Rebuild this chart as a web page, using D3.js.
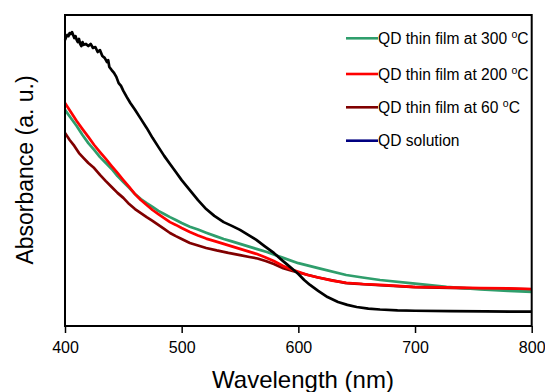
<!DOCTYPE html>
<html><head><meta charset="utf-8">
<script src="https://cdn.jsdelivr.net/npm/d3@7"></script>
<style>body{margin:0;background:#fff}svg{display:block;font-family:"Liberation Sans",Arial,sans-serif}</style>
</head><body>
<svg id="c" width="545" height="392"></svg>
<script>
// ---- data ----
const xTicks = [400, 500, 600, 700, 800];
const seriesNames = ["QD thin film at 300", "QD thin film at 200", "QD thin film at 60", "QD solution"];
const seriesColors = ["#2f9e6c", "#ff0000", "#800000", "#000000"];
const legendColors = ["#2f9e6c", "#ff0000", "#800000", "#000080"];

const wlSolution = [400,401,402,403,404,405,406,407,408,409,410,411,412,413,414,415,416,418,420,422,424,426,428,430,432,434,436,437,438,440,442,444,446,448,450,453,456,460,465,470,475,480,485,490,495,500,507,514,521,528,536,543,550,557,564,571,579,585,590,595,600,605,610,617,625,634,642,650,660,670,685,700,730,760,800];
const absSolution = [0.920,0.929,0.936,0.932,0.942,0.939,0.945,0.936,0.926,0.932,0.920,0.913,0.923,0.907,0.900,0.913,0.904,0.907,0.900,0.907,0.894,0.897,0.881,0.887,0.868,0.862,0.849,0.855,0.833,0.823,0.814,0.801,0.781,0.772,0.756,0.736,0.717,0.695,0.666,0.637,0.605,0.576,0.547,0.521,0.495,0.469,0.437,0.405,0.376,0.354,0.334,0.322,0.309,0.293,0.277,0.257,0.235,0.215,0.199,0.183,0.167,0.148,0.132,0.113,0.093,0.077,0.068,0.061,0.056,0.053,0.050,0.049,0.048,0.047,0.046];

const wl200 = [400,405,410,415,420,425,430,435,440,445,450,455,460,465,470,475,480,485,490,495,500,507,514,521,529,536,543,550,557,564,571,579,587,593,600,608,617,629,641,655,670,685,698,727,756,780,800];
const abs200 = [0.717,0.688,0.659,0.633,0.608,0.582,0.559,0.537,0.514,0.492,0.469,0.447,0.424,0.405,0.389,0.373,0.360,0.347,0.334,0.325,0.315,0.302,0.291,0.281,0.272,0.264,0.256,0.248,0.240,0.232,0.222,0.209,0.193,0.183,0.174,0.164,0.156,0.146,0.139,0.135,0.132,0.129,0.126,0.124,0.122,0.121,0.119];

const wl300 = [400,405,410,415,420,425,430,435,440,445,450,455,460,465,470,475,480,485,490,495,500,507,514,521,529,536,543,550,557,564,573,587,600,617,641,655,670,698,727,756,780,800];
const abs300 = [0.695,0.669,0.643,0.614,0.588,0.566,0.543,0.524,0.505,0.482,0.463,0.444,0.424,0.408,0.395,0.383,0.370,0.360,0.350,0.341,0.331,0.319,0.310,0.300,0.289,0.280,0.272,0.264,0.256,0.248,0.238,0.219,0.202,0.186,0.164,0.156,0.148,0.137,0.126,0.118,0.113,0.110];

const wl60 = [400,404,408,412,416,420,425,430,435,440,445,450,455,460,465,470,475,480,485,490,495,500,507,514,521,530,540,550,558,565,572,579,587,595,600,617,641,670,700,750,800];
const abs60 = [0.621,0.598,0.579,0.556,0.540,0.524,0.508,0.486,0.466,0.447,0.428,0.412,0.392,0.376,0.363,0.350,0.338,0.325,0.312,0.299,0.289,0.280,0.267,0.259,0.251,0.243,0.235,0.228,0.222,0.217,0.209,0.199,0.186,0.177,0.172,0.156,0.138,0.131,0.125,0.121,0.118];

// ---- chart ----
const svg = d3.select("#c");
const L = 65, R = 531.7, T = 15, B = 326;
const x = d3.scaleLinear().domain([400, 800]).range([L, R]);
const y = d3.scaleLinear().domain([0, 1]).range([B, T]);

const line = d3.line().x(d => x(d[0])).y(d => y(d[1]));
const zip = (a, b) => a.map((v, i) => [v, b[i]]);

const series = [
  {data: zip(wl60, abs60), color: seriesColors[2]},
  {data: zip(wl300, abs300), color: seriesColors[0]},
  {data: zip(wl200, abs200), color: seriesColors[1]},
  {data: zip(wlSolution, absSolution), color: seriesColors[3]}
];
series.forEach(s => {
  svg.append("path").attr("d", line(s.data)).attr("fill", "none")
    .attr("stroke", s.color).attr("stroke-width", 2.7).attr("stroke-linejoin", "round");
});

// frame
svg.append("rect").attr("x", L).attr("y", T).attr("width", R - L).attr("height", B - T)
  .attr("fill", "none").attr("stroke", "#000").attr("stroke-width", 2);

// x axis
const xa = svg.append("g").attr("transform", `translate(0,${B})`)
  .call(d3.axisBottom(x).tickValues(xTicks).tickSize(7).tickPadding(9).tickFormat(d3.format("d")));
xa.select(".domain").remove();
xa.selectAll("line").attr("stroke", "#000").attr("stroke-width", 1.5);
xa.selectAll("text").attr("font-size", 16).attr("fill", "#000").attr("font-family", "Liberation Sans, Arial, sans-serif");

svg.append("text").attr("x", 303).attr("y", 388).attr("text-anchor", "middle")
  .attr("font-size", 24).text("Wavelength (nm)");
svg.append("text").attr("transform", "translate(33,170) rotate(-90)").attr("text-anchor", "middle")
  .attr("font-size", 23).text("Absorbance (a. u.)");

// legend
const legY = [38.3, 74, 107.3, 140.7];
seriesNames.forEach((name, i) => {
  const g = svg.append("g").attr("transform", `translate(0,${legY[i]})`);
  g.append("line").attr("x1", 346).attr("x2", 378).attr("y1", 0).attr("y2", 0)
    .attr("stroke", legendColors[i]).attr("stroke-width", 2.6);
  const t = g.append("text").attr("x", 378).attr("y", 5.5).attr("font-size", 15.6);
  if (i < 3) {
    t.append("tspan").text(name + " ");
    t.append("tspan").attr("font-size", 10.5).attr("dy", -6).text("o");
    t.append("tspan").attr("dy", 6).text("C");
  } else {
    t.text(name);
  }
});
</script>
</body></html>
